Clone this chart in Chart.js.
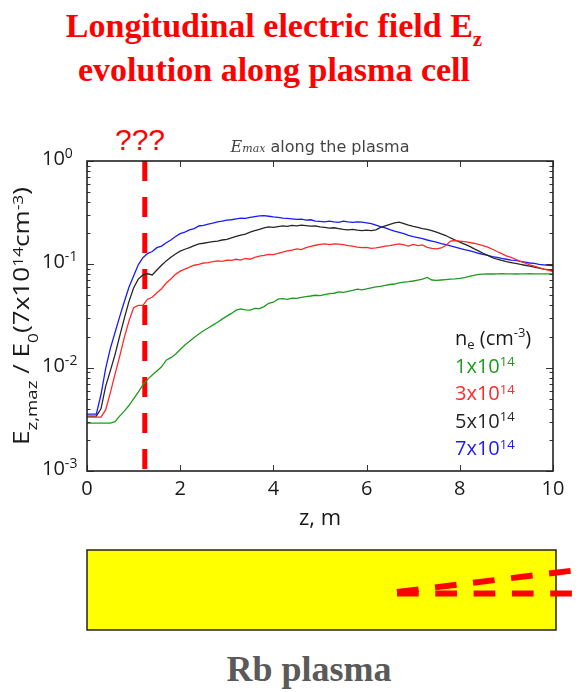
<!DOCTYPE html>
<html>
<head>
<meta charset="utf-8">
<script src="https://cdn.jsdelivr.net/npm/chart.js@4/dist/chart.umd.min.js"></script>
<style>
  html, body { margin: 0; padding: 0; background: #fff; }
  #page { position: relative; width: 578px; height: 692px; overflow: hidden; }
  .head { position: absolute; left: 0; top: 4px; width: 548px; text-align: center;
          font: bold 34px/44px "Liberation Serif", serif; color: #ff0000; }
  .head .sub { font-size: 21px; line-height: 1; position: relative; top: 9px; }
  #ask { position: absolute; left: 90px; top: 125px; width: 100px; text-align: center;
         font: 30px/30px "Liberation Sans", sans-serif; color: #ff0000; }
  #ptitle { position: absolute; left: 170px; top: 139px; width: 300px; text-align: center;
            font: 16px/16px "DejaVu Sans", sans-serif; color: #444; z-index: 2; }
  #ptitle i { font-family: "DejaVu Serif", serif; }
  #ptitle i small { font-size: 11px; }
  #wrap { position: absolute; left: 0; top: 120px; width: 578px; height: 420px; }
  #cell { position: absolute; left: 0; top: 540px; }
  #rb { position: absolute; left: 159px; top: 651px; width: 300px; text-align: center;
        font: bold 36px/36px "Liberation Serif", serif; color: #5a5a5a; }
</style>
</head>
<body>
<div id="page">
  <div class="head">Longitudinal electric field E<span class="sub">z</span><br>evolution along plasma cell</div>
  <div id="ask">???</div>
  <div id="ptitle"><i>E<small>max</small></i> along the plasma</div>
  <div id="wrap"><canvas id="c"></canvas></div>
  <svg id="cell" width="578" height="100">
    <rect x="87" y="10" width="469" height="80" fill="#ffff00" stroke="#222" stroke-width="1.5"/>
    <line x1="397" y1="53.5" x2="578" y2="53.5" stroke="#ff0000" stroke-width="6" stroke-dasharray="21.7 16.6"/>
    <line x1="397" y1="52" x2="578" y2="30" stroke="#ff0000" stroke-width="6" stroke-dasharray="21.7 16.6"/>
  </svg>
  <div id="rb">Rb plasma</div>
</div>
<script>
// z grid along the cell, m (0 .. 10 in 0.1 steps)
const zGrid = Array.from({ length: 101 }, (_, i) => i / 10);

// E_z,max / E_0, one value per z step
const ne1 = [
  0.0029,0.0029,0.0029,0.0029,0.0029,0.0029,0.0030,0.0034,0.0038,0.0043,
  0.0050,0.0058,0.0068,0.0077,0.0085,0.0093,0.0102,0.0118,0.0125,0.0135,
  0.0150,0.0166,0.0180,0.0196,0.0212,0.0228,0.0242,0.0258,0.0275,0.0295,
  0.0315,0.0335,0.0360,0.0370,0.0362,0.0360,0.0375,0.0372,0.0390,0.0420,
  0.0430,0.0460,0.0465,0.0458,0.0470,0.0468,0.0478,0.0488,0.0494,0.0502,
  0.0498,0.0510,0.0520,0.0525,0.0540,0.0535,0.0548,0.0560,0.0575,0.0565,
  0.0580,0.0592,0.0605,0.0612,0.0625,0.0638,0.0645,0.0660,0.0672,0.0680,
  0.0690,0.0705,0.0720,0.0748,0.0705,0.0698,0.0705,0.0712,0.0718,0.0722,
  0.0730,0.0745,0.0765,0.0780,0.0800,0.0805,0.0810,0.0806,0.0808,0.0812,
  0.0808,0.0810,0.0806,0.0810,0.0808,0.0812,0.0810,0.0808,0.0810,0.0808,
  0.0808
];
const ne3 = [
  0.00332,0.00332,0.00332,0.00332,0.0039,0.0057,0.0086,0.0128,0.0195,0.0282,
  0.038,0.040,0.040,0.046,0.048,0.053,0.058,0.066,0.072,0.080,
  0.086,0.090,0.094,0.098,0.100,0.103,0.104,0.106,0.108,0.107,
  0.110,0.109,0.112,0.110,0.114,0.112,0.117,0.120,0.122,0.125,
  0.124,0.128,0.131,0.135,0.137,0.141,0.139,0.145,0.149,0.153,
  0.156,0.158,0.155,0.158,0.157,0.155,0.152,0.150,0.147,0.145,
  0.146,0.143,0.144,0.147,0.150,0.152,0.155,0.158,0.154,0.150,
  0.156,0.152,0.154,0.146,0.143,0.141,0.144,0.152,0.168,0.170,
  0.168,0.166,0.163,0.160,0.156,0.152,0.147,0.140,0.133,0.127,
  0.121,0.117,0.112,0.107,0.103,0.099,0.096,0.093,0.090,0.088,
  0.085
];
const ne5 = [
  0.0034,0.0034,0.0034,0.0040,0.0066,0.0093,0.0133,0.0201,0.030,0.0436,
  0.059,0.072,0.079,0.081,0.079,0.088,0.098,0.108,0.117,0.126,
  0.134,0.140,0.145,0.152,0.158,0.160,0.163,0.166,0.168,0.172,
  0.174,0.180,0.186,0.192,0.196,0.205,0.212,0.218,0.225,0.230,
  0.228,0.232,0.236,0.233,0.238,0.236,0.240,0.237,0.234,0.236,
  0.230,0.228,0.224,0.226,0.222,0.218,0.216,0.218,0.214,0.212,
  0.214,0.212,0.216,0.228,0.236,0.244,0.252,0.256,0.248,0.240,
  0.233,0.228,0.222,0.218,0.212,0.205,0.197,0.190,0.180,0.172,
  0.164,0.157,0.150,0.142,0.135,0.128,0.122,0.116,0.112,0.109,
  0.106,0.104,0.102,0.100,0.098,0.096,0.094,0.092,0.090,0.089,
  0.087
];
const ne7 = [
  0.00355,0.00355,0.00355,0.0055,0.0098,0.0153,0.0218,0.031,0.0434,0.060,
  0.077,0.099,0.116,0.127,0.133,0.145,0.150,0.162,0.172,0.186,
  0.198,0.205,0.215,0.222,0.235,0.238,0.245,0.250,0.258,0.262,
  0.268,0.270,0.276,0.280,0.278,0.285,0.290,0.294,0.296,0.292,
  0.288,0.285,0.280,0.278,0.275,0.272,0.274,0.268,0.270,0.262,
  0.260,0.258,0.262,0.258,0.255,0.262,0.258,0.255,0.258,0.256,
  0.252,0.248,0.240,0.232,0.225,0.217,0.210,0.204,0.198,0.191,
  0.185,0.181,0.177,0.172,0.168,0.164,0.159,0.155,0.151,0.147,
  0.143,0.139,0.136,0.132,0.128,0.125,0.122,0.119,0.117,0.114,
  0.112,0.110,0.109,0.107,0.105,0.103,0.102,0.100,0.099,0.098,
  0.097
];

const densityCoef = ["1", "3", "5", "7"];
const densityExp = "14";
const seriesData = [ne1, ne3, ne5, ne7];
const seriesColors = ["#1f9a1f", "#ff2a2a", "#262626", "#1a1aff"];

const markerZ = 1.24;          // the "???" position
const xTicks = [0, 2, 4, 6, 8, 10];
const yTickValues = [1, 0.1, 0.01, 0.001];
const yTickExp = ["0", "-1", "-2", "-3"];

const FONT = '"Open Sans", sans-serif';

function richWidth(ctx, segs, base) {
  let w = 0;
  segs.forEach(s => {
    ctx.font = `${s.k ? s.size || base * 0.68 : base}px ${FONT}`;
    w += ctx.measureText(s.t).width;
  });
  return w;
}
function drawRich(ctx, segs, x, y, base, color) {
  let cx = x;
  segs.forEach(s => {
    const size = s.k ? s.size || base * 0.68 : base;
    ctx.font = `${size}px ${FONT}`;
    ctx.fillStyle = color;
    ctx.fillText(s.t, cx, y + (s.dy || 0));
    cx += ctx.measureText(s.t).width;
  });
  return cx - x;
}

const decor = {
  id: "decor",
  afterDatasetsDraw(chart) {
    const { ctx, chartArea: a, scales: { x, y } } = chart;
    ctx.save();

    // inward ticks, matplotlib style
    ctx.strokeStyle = "#333";
    ctx.lineWidth = 1;
    ctx.beginPath();
    xTicks.forEach(v => {
      const px = Math.round(x.getPixelForValue(v)) + 0.5;
      ctx.moveTo(px, a.bottom); ctx.lineTo(px, a.bottom - 6);
      ctx.moveTo(px, a.top); ctx.lineTo(px, a.top + 6);
    });
    yTickValues.forEach(v => {
      const py = Math.round(y.getPixelForValue(v)) + 0.5;
      ctx.moveTo(a.left, py); ctx.lineTo(a.left + 7, py);
      ctx.moveTo(a.right, py); ctx.lineTo(a.right - 7, py);
      if (v < 1) {
        for (let m = 2; m <= 9; m++) {
          const pm = Math.round(y.getPixelForValue(v * m)) + 0.5;
          ctx.moveTo(a.left, pm); ctx.lineTo(a.left + 3.5, pm);
          ctx.moveTo(a.right, pm); ctx.lineTo(a.right - 3.5, pm);
        }
      }
    });
    ctx.stroke();
    ctx.strokeStyle = "#222";
    ctx.lineWidth = 1.6;
    ctx.strokeRect(a.left, a.top, a.width, a.height);

    // y tick labels 10^n
    ctx.textAlign = "left";
    ctx.textBaseline = "alphabetic";
    yTickValues.forEach((v, i) => {
      const py = y.getPixelForValue(v);
      drawRich(ctx, [{ t: "10" }, { t: yTickExp[i], k: 1, size: 14, dy: -7 }], 42, py + 4, 20, "#1a1a1a");
    });

    // x axis title
    ctx.textAlign = "center";
    ctx.font = `22px ${FONT}`;
    ctx.fillStyle = "#1a1a1a";
    ctx.fillText("z, m", (a.left + a.right) / 2, 405);
    ctx.textAlign = "left";

    // y axis title, rotated
    const ySegs = [
      { t: "E" }, { t: "z,maz", k: 1, size: 15, dy: 8 }, { t: " / E" }, { t: "0", k: 1, size: 14, dy: 9 },
      { t: "(7x10" }, { t: "14", k: 1, size: 14, dy: -5.5 }, { t: "cm" }, { t: "-3", k: 1, size: 14, dy: -5.5 }, { t: ")" }
    ];
    const w = richWidth(ctx, ySegs, 21);
    const target = 258;
    ctx.save();
    ctx.translate(28.5, (a.top + a.bottom) / 2);
    ctx.rotate(-Math.PI / 2);
    ctx.scale(target / w, 1);
    drawRich(ctx, ySegs, -w / 2, 0, 21, "#1a1a1a");
    ctx.restore();

    // density legend
    drawRich(ctx, [{ t: "n" }, { t: "e", k: 1, size: 13, dy: 3.5 }, { t: " (cm" }, { t: "-3", k: 1, size: 13, dy: -8 }, { t: ")" }],
      455, 225, 20, "#1a1a1a");
    densityCoef.forEach((c, i) => {
      drawRich(ctx, [{ t: c + "x10" }, { t: densityExp, k: 1, size: 13, dy: -6.5 }],
        455, 225 + 27.5 * (i + 1), 20, seriesColors[i]);
    });
    ctx.restore();
  }
};

const datasets = seriesData.map((arr, i) => ({
  label: densityCoef[i] + "x10^" + densityExp,
  data: zGrid.map((z, j) => ({ x: z, y: arr[j] })),
  borderColor: seriesColors[i],
  borderWidth: 1.3,
  pointRadius: 0,
  tension: 0
}));
datasets.push({
  label: "???",
  data: [{ x: markerZ, y: yTickValues[0] }, { x: markerZ, y: yTickValues[3] }],
  borderColor: "#ff0000",
  borderWidth: 5,
  borderDash: [20, 16],
  pointRadius: 0
});

new Chart(document.getElementById("c").getContext("2d"), {
  type: "line",
  data: { datasets },
  options: {
    responsive: true,
    maintainAspectRatio: false,
    animation: false,
    layout: { padding: { top: 41, right: 25, left: 0, bottom: 0 } },
    plugins: { legend: { display: false }, tooltip: { enabled: false }, title: { display: false } },
    scales: {
      x: {
        type: "linear", min: 0, max: 10,
        grid: { display: false, drawTicks: false },
        border: { display: false },
        ticks: { stepSize: 2, padding: 6, color: "#1a1a1a", font: { family: "Open Sans", size: 20 }, maxRotation: 0 },
        afterFit: s => { s.height = 69; }
      },
      y: {
        type: "logarithmic", min: 0.001, max: 1,
        grid: { display: false, drawTicks: false },
        border: { display: false },
        ticks: { display: false },
        afterFit: s => { s.width = 87; }
      }
    }
  },
  plugins: [decor]
});
</script>
</body>
</html>
